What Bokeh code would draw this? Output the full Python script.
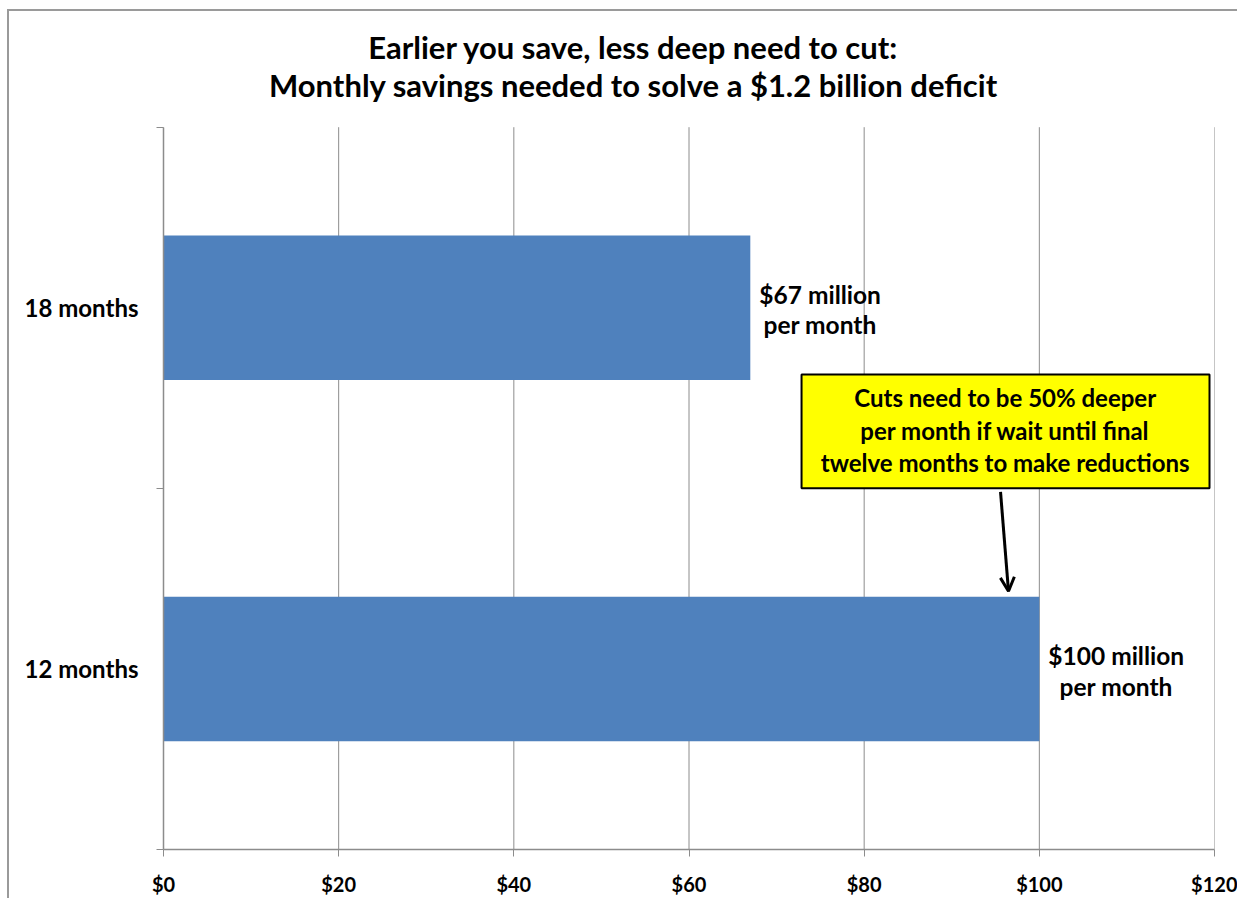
from bokeh.plotting import figure
from bokeh.models import FixedTicker, Arrow, OpenHead, ColumnDataSource, Range1d
from bokeh.core.properties import value
from bokeh.embed import file_html
from bokeh.resources import INLINE

# ---- data ----
categories = ["12 months", "18 months"]
savings = [100, 67]
bar_labels = ["$100 million\nper month", "$67 million\nper month"]
x_ticks = [0, 20, 40, 60, 80, 100, 120]
x_tick_labels = ["$0", "$20", "$40", "$60", "$80", "$100", "$120"]
title_lines = ["Earlier you save, less deep need to cut:",
               "Monthly savings needed to solve a $1.2 billion deficit"]
callout_text = ["Cuts need to be 50% deeper",
                "per month if wait until final",
                "twelve months to make reductions"]

FONT = "Lato"
BAR = "#4F81BD"
GRID = "#8c8c8c"
W, H = 1237, 898
PLOT_TOP_PX = 127          # pixel row where the category area starts
PX_PER_CAT = 362           # pixel height of one category band
N = len(categories)
Y_TOP = N + PLOT_TOP_PX / PX_PER_CAT   # frame extends up to the page top (title area)

ypos = [i + 0.5 for i in range(N)]
src = ColumnDataSource(dict(y=ypos, v=savings, lab=bar_labels))

p = figure(width=W, height=H, output_backend="svg", toolbar_location=None,
           x_range=Range1d(0, 120), y_range=Range1d(0, Y_TOP),
           min_border_left=163, min_border_right=W - 1214,
           min_border_bottom=H - 851, min_border_top=0, title=None)
p.outline_line_color = None
p.background_fill_color = None
p.border_fill_color = None
p.styles = {
    "background": ("linear-gradient(#9a9a9a,#9a9a9a) 7px 9px / 2px 100% no-repeat, "
                   "linear-gradient(#9a9a9a,#9a9a9a) 7px 9px / 100% 2px no-repeat, "
                   "white"),
}

# vertical gridlines, only over the category area
p.segment(x0=x_ticks, y0=[0] * len(x_ticks), x1=x_ticks, y1=[N] * len(x_ticks),
          line_color=GRID, line_width=1)

# title lines
p.text(x=[53.66, 53.66], y=[2.221, 2.116], text=title_lines,
       text_font=value(FONT), text_font_size="31px", text_font_style="bold",
       text_color="black", text_align="center", text_baseline="middle")

# bars
p.hbar(y="y", right="v", left=0, height=0.4, source=src,
       fill_color=BAR, line_color=None)

# bar value labels
p.text(x="v", y="y", text="lab", source=src, x_offset=9, y_offset=2,
       text_font=value(FONT), text_font_size="24.5px", text_font_style="bold",
       text_color="black", text_align="center", anchor="center_left",
       text_line_height=1.05)

# x axis
p.xaxis.ticker = FixedTicker(ticks=x_ticks)
p.xaxis.major_label_overrides = {t: l for t, l in zip(x_ticks, x_tick_labels)}
p.xaxis.major_label_text_font = FONT
p.xaxis.major_label_text_font_size = "20px"
p.xaxis.major_label_text_font_style = "bold"
p.xaxis.major_label_text_color = "black"
p.xaxis.major_label_standoff = 15
p.xaxis.major_tick_in = 0
p.xaxis.major_tick_out = 7
p.xaxis.major_tick_line_color = GRID
p.xaxis.minor_tick_line_color = None
p.xaxis.axis_line_color = GRID
p.xaxis.axis_line_width = 1.5

# y axis: labels at centres, tick marks at category boundaries
p.yaxis.bounds = (0, N)
p.yaxis.ticker = FixedTicker(ticks=ypos, minor_ticks=list(range(N + 1)))
p.yaxis.major_label_overrides = {y: c for y, c in zip(ypos, categories)}
p.yaxis.major_label_text_font = FONT
p.yaxis.major_label_text_font_size = "24px"
p.yaxis.major_label_text_font_style = "bold"
p.yaxis.major_label_text_color = "black"
p.yaxis.major_label_standoff = 18
p.yaxis.major_tick_line_color = None
p.yaxis.minor_tick_in = 0
p.yaxis.minor_tick_out = 7
p.yaxis.minor_tick_line_color = GRID
p.yaxis.axis_line_color = GRID
p.yaxis.axis_line_width = 1.5

p.xgrid.grid_line_color = None
p.ygrid.grid_line_color = None

# callout box
p.quad(left=[72.85], right=[119.43], bottom=[1.0], top=[1.315],
       fill_color="#FFFF00", line_color="black", line_width=2)
p.text(x=[96.1] * 3, y=[1.2514, 1.1602, 1.0718], text=callout_text,
       text_font=value(FONT), text_font_size="24px", text_font_style="bold",
       text_color="black", text_align="center", text_baseline="middle")

# arrow
p.add_layout(Arrow(x_start=95.57, y_start=0.99, x_end=96.48, y_end=0.715,
                   line_color="black", line_width=3,
                   end=OpenHead(size=14, line_color="black", line_width=3)))

open("out.html", "w").write(file_html(p, INLINE))
